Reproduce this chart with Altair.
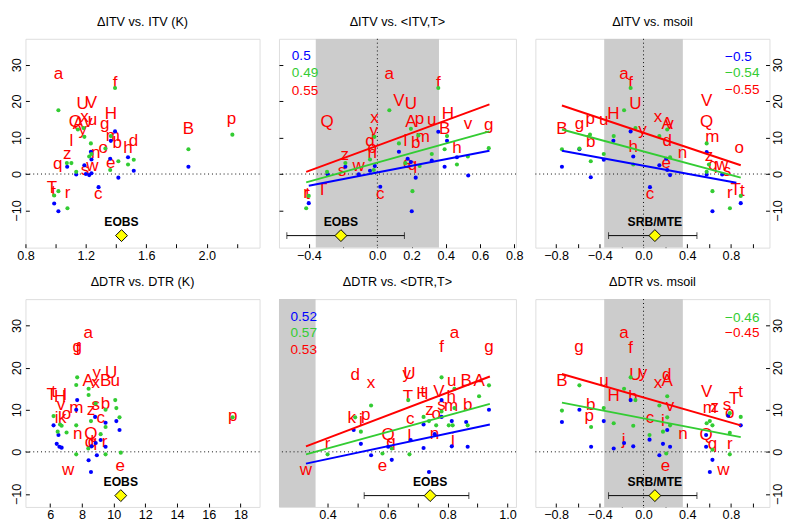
import altair as alt
import pandas as pd

FONT = "Liberation Sans"
RED = "#FF0000"
BLUE = "#0000FF"
GREEN = "#33CC33"
BAND = "#CCCCCC"

# ---------------- Panel 1: dITV vs ITV (K) ----------------
p1_lab = ["a","f","U","V","Q","A","x","y","v","u","H","g","m","b","d","h","o","n","l","z","q","e","w","s","T","t","r","c","B","p"]
p1_lx = [1.018,1.393,1.179,1.237,1.13,1.151,1.19,1.179,1.215,1.243,1.365,1.325,1.378,1.408,1.515,1.479,1.314,1.265,1.104,1.076,1.014,1.365,1.243,1.194,0.976,0.986,1.078,1.282,1.879,2.164]
p1_ly = [27.5,24.8,19.3,19.5,14.2,13.8,15.7,12.0,14.1,14.8,16.4,13.8,10.4,8.6,9.1,7.1,7.1,5.8,9.1,5.5,2.8,3.1,2.1,1.1,-4.0,-4.9,-5.2,-5.4,12.2,15.0]
p1_bx = [1.076,1.136,1.19,1.222,1.237,1.233,1.237,1.365,1.393,1.361,1.415,1.479,1.517,1.879,1.284,0.99,1.018,1.2]
p1_by = [2.0,-0.1,2.4,-0.3,0.2,6.1,4.0,9.1,11.7,4.2,-1.0,4.6,0.9,2.0,-3.6,-8.1,-10.2,0.0]
p1_gx = [1.018,1.393,1.147,1.185,1.19,1.233,1.222,1.237,1.329,1.361,1.415,1.479,1.517,1.365,1.074,1.104,1.136,0.99,1.018,1.078,1.879,2.17]
p1_gy = [17.5,23.6,12.2,12.6,10.2,8.4,4.8,5.5,7.0,1.1,3.5,2.6,3.9,10.4,3.0,3.0,0.6,-5.9,-4.7,-9.4,6.8,10.8]

# ---------------- Panel 2: dITV vs <ITV,T> ----------------
p2_lab = ["Q","a","f","V","U","x","y","A","p","u","H","v","g","B","m","l","b","d","o","n","h","z","e","q","w","s","T","r","t","c"]
p2_lx = [-0.294,0.070,0.356,0.126,0.196,-0.017,-0.021,0.196,0.246,0.318,0.412,0.529,0.651,0.393,0.265,0.164,0.224,-0.043,-0.030,-0.030,0.465,-0.190,0.177,0.205,-0.109,-0.206,-0.322,-0.416,-0.407,0.017]
p2_ly = [14.1,27.5,24.8,19.9,19.3,15.3,11.9,14.1,15.0,14.8,16.4,13.8,13.5,12.2,10.2,9.1,8.6,9.1,7.0,5.8,7.1,5.2,3.1,2.4,2.1,0.9,-4.3,-5.2,-5.4,-5.4]
p2_bx = [-0.401,-0.290,-0.187,-0.109,-0.043,-0.015,0.017,0.126,0.177,0.224,0.201,0.318,0.356,0.407,0.393,0.465,0.531,0.196]
p2_by = [-8.0,-0.1,2.0,-0.1,0.9,2.2,-3.5,6.1,4.2,-1.0,-10.2,3.7,11.6,9.1,2.0,4.6,-0.4,3.3]
p2_gx = [-0.416,-0.401,-0.294,-0.187,-0.043,-0.021,-0.017,0.070,0.126,0.164,0.196,0.205,0.247,0.318,0.356,0.407,0.393,0.465,0.529,0.651,0.240]
p2_gy = [-9.4,-6.0,0.6,3.0,4.0,1.1,10.2,17.5,8.4,3.0,12.4,-4.7,2.2,5.5,23.6,10.4,6.8,2.6,4.8,7.1,10.6]

# ---------------- Panel 3: dITV vs msoil ----------------
p3_lab = ["a","f","U","H","u","p","g","B","b","y","x","A","v","d","h","e","c","n","V","Q","m","o","z","q","w","s","r","T","t"]
p3_lx = [-0.178,-0.118,-0.074,-0.276,-0.364,-0.489,-0.587,-0.747,-0.483,-0.009,0.133,0.217,0.237,0.217,-0.094,0.208,0.059,0.356,0.578,0.578,0.631,0.875,0.599,0.636,0.72,0.764,0.791,0.844,0.904]
p3_ly = [27.5,24.8,19.3,16.4,14.7,15.0,13.7,12.2,8.8,12.0,15.7,13.8,13.6,9.1,7.5,3.1,-5.4,5.8,19.9,14.2,10.2,7.0,4.9,2.4,2.4,0.9,-5.2,-4.5,-4.7]
p3_bx = [-0.747,-0.587,-0.483,-0.364,-0.276,-0.118,-0.094,0.059,0.145,0.208,0.217,0.243,0.578,0.578,0.631,0.72,0.89]
p3_by = [2.0,6.8,-0.9,3.9,9.1,11.7,4.8,-3.6,2.4,4.2,1.1,-0.3,-0.1,6.0,-10.2,-0.1,-8.0]
p3_gx = [-0.747,-0.587,-0.483,-0.49,-0.364,-0.273,-0.178,-0.118,-0.094,-0.074,0.145,0.217,0.243,0.578,0.599,0.578,0.631,0.791,0.89]
p3_gy = [6.8,7.0,3.5,10.8,5.5,10.4,17.5,23.6,2.6,12.6,10.4,12.2,4.6,8.4,2.6,0.6,-4.7,-9.4,-6.0]

# ---------------- Panel 4: dDTR vs DTR (K) ----------------
p4_lab = ["a","g","f","y","U","A","x","B","u","T","t","H","l","v","m","s","b","z","c","o","i","k","n","Q","d","q","r","w","e","p"]
p4_lx = [8.40,7.70,7.74,8.94,9.84,8.40,8.87,9.49,10.10,6.10,6.21,6.62,6.92,6.68,7.64,8.87,9.49,8.57,9.18,7.03,6.41,6.76,7.74,8.57,8.47,8.67,9.43,7.13,10.41,17.5]
p4_ly = [28.1,25.0,24.5,18.7,18.7,16.9,16.4,16.9,16.9,13.5,14.1,13.1,13.5,11.0,10.5,11.0,11.3,10.0,8.1,9.0,7.9,7.9,4.2,4.2,2.3,2.3,2.3,-4.4,-3.3,8.6]
p4_bx = [6.21,6.52,6.41,6.58,6.72,7.70,7.64,8.42,8.57,8.83,8.94,9.18,9.49,9.49,10.17,10.37,8.61,8.87]
p4_by = [6.3,4.0,1.9,1.2,1.0,12.3,10.0,-2.0,-4.8,8.3,-0.8,2.8,1.2,6.9,7.3,5.2,1.3,2.1]
p4_gx = [6.21,6.47,6.62,6.72,7.03,7.70,7.64,7.64,7.64,8.42,8.42,8.57,8.40,8.87,9.18,9.49,9.49,9.49,10.10,10.17,10.37,10.45,17.5]
p4_gy = [8.5,4.8,6.5,6.2,4.6,17.7,15.9,6.3,-0.6,15.0,13.5,7.3,0.8,11.5,4.2,10.0,5.9,-0.6,12.3,10.4,8.2,-0.2,8.2]

# ---------------- Panel 5: dDTR vs <DTR,T> ----------------
p5_lab = ["a","f","g","d","x","y","U","u","B","A","T","H","t","V","h","s","m","b","z","o","k","p","i","c","Q","l","n","j","q","r","e","w"]
p5_lx = [0.823,0.780,0.938,0.492,0.545,0.664,0.673,0.814,0.862,0.905,0.668,0.716,0.718,0.771,0.812,0.780,0.812,0.867,0.740,0.762,0.481,0.527,0.511,0.676,0.602,0.673,0.756,0.818,0.611,0.400,0.583,0.328]
p5_ly = [28.1,24.8,25.0,18.2,16.4,18.5,18.5,16.9,16.9,16.9,13.1,13.6,14.2,14.1,13.1,11.0,10.8,11.2,10.0,9.0,8.1,8.8,7.5,7.8,4.0,3.8,4.2,3.1,2.3,1.9,-3.3,-4.4]
p5_bx = [0.487,0.511,0.545,0.614,0.602,0.677,0.720,0.720,0.738,0.780,0.780,0.814,0.814,0.862,0.867,0.938,0.757]
p5_by = [5.2,1.9,-0.8,-1.9,1.2,2.8,0.9,6.5,-4.8,12.3,8.3,7.3,1.3,7.1,1.2,10.0,4.2]
p5_gx = [0.400,0.492,0.511,0.545,0.583,0.614,0.669,0.673,0.720,0.738,0.780,0.823,0.780,0.804,0.817,0.867,0.823,0.905,0.938,0.762]
p5_gy = [-0.6,8.2,4.8,11.0,-0.4,0.8,12.3,-0.6,8.3,7.3,17.7,15.0,9.6,6.3,6.3,6.3,10.4,13.2,15.8,6.3]

# ---------------- Panel 6: dDTR vs msoil ----------------
p6_lab = ["a","g","f","B","u","U","y","x","d","A","H","h","b","p","v","i","c","j","n","e","V","m","z","s","T","t","o","Q","q","r","w"]
p6_lx = [-0.178,-0.592,-0.118,-0.747,-0.361,-0.074,-0.005,0.133,0.213,0.216,-0.273,-0.097,-0.483,-0.498,0.243,0.178,0.059,-0.183,0.362,0.202,0.578,0.607,0.652,0.764,0.830,0.890,0.790,0.573,0.631,0.790,0.730]
p6_ly = [28.1,25.0,24.6,16.9,16.7,18.2,18.7,16.4,18.2,16.9,13.3,13.1,11.2,8.5,10.8,7.3,7.9,2.8,4.2,-3.3,14.1,10.4,10.6,11.0,12.5,14.1,9.2,4.0,1.9,1.9,-4.4]
p6_bx = [-0.747,-0.587,-0.480,-0.364,-0.273,-0.178,-0.118,-0.094,0.055,0.145,0.178,0.217,0.243,0.573,0.573,0.631,0.607,0.776,0.890]
p6_by = [7.1,10.0,1.2,7.3,0.8,2.1,12.3,1.3,2.9,-0.8,1.9,5.2,1.2,4.0,1.2,-1.9,-4.8,8.6,6.3]
p6_gx = [-0.747,-0.587,-0.480,-0.364,-0.273,-0.178,-0.118,-0.094,-0.074,0.055,0.145,0.178,0.217,0.217,0.208,0.243,0.578,0.607,0.631,0.631,0.790,0.790,0.790,0.890]
p6_gy = [9.8,15.8,5.9,10.4,6.8,15.0,17.7,6.2,12.3,4.0,11.0,4.8,13.2,8.2,-0.4,6.3,6.8,7.3,0.5,6.3,9.2,4.5,-0.6,8.3]

# regression lines: (color, x0, y0, x1, y1)
p1_lines = []
p2_lines = [(RED, -0.416, 0.6, 0.655, 19.1), (GREEN, -0.416, -2.3, 0.655, 11.7), (BLUE, -0.401, -3.2, 0.655, 6.4)]
p3_lines = [(RED, -0.747, 18.8, 0.89, 2.4), (GREEN, -0.747, 12.2, 0.89, -1.0), (BLUE, -0.747, 6.4, 0.85, -2.4)]
p4_lines = []
p5_lines = [(RED, 0.328, 1.3, 0.941, 17.9), (GREEN, 0.328, -0.6, 0.941, 11.4), (BLUE, 0.328, -2.8, 0.941, 6.5)]
p6_lines = [(RED, -0.747, 18.5, 0.89, 6.3), (GREEN, -0.747, 11.7, 0.89, 3.5)]

# correlation annotations: (text, color, x, y)
p2_corr = [("0.5", BLUE, -0.50, 32.4), ("0.49", GREEN, -0.50, 27.6), ("0.55", RED, -0.50, 22.8)]
p3_corr = [("\u22120.5", BLUE, 0.747, 32.2), ("\u22120.54", GREEN, 0.747, 27.6), ("\u22120.55", RED, 0.747, 23.0)]
p5_corr = [("0.52", BLUE, 0.2765, 32.1), ("0.57", GREEN, 0.2765, 28.2), ("0.53", RED, 0.2765, 24.1)]
p6_corr = [("\u22120.46", GREEN, 0.747, 31.9), ("\u22120.45", RED, 0.747, 28.1)]

# observation diamond: (label, x, y, lo, hi, label_y)
p1_obs = ("EOBS", 1.436, -16.9, None, None, -13.3)
p2_obs = ("EOBS", -0.213, -16.9, -0.529, 0.158, -13.3)
p3_obs = ("SRB/MTE", 0.104, -16.9, -0.32, 0.489, -13.3)
p4_obs = ("EOBS", 10.45, -10.4, None, None, -7.3)
p5_obs = ("EOBS", 0.742, -10.4, 0.522, 0.871, -7.3)
p6_obs = ("SRB/MTE", 0.104, -10.4, -0.32, 0.489, -7.3)

Y_TICKS = [-10, 0, 10, 20, 30]


def panel(title, width, height, xdom, ydom, xticks, xlabeled, xfmt, yorient, ylabels,
          lab, lx, ly, bx, by, gx, gy, lines, corr, obs, band=None, vzero=False):
    lab_expr = "indexof(%s, round(datum.value*100)) >= 0 ? datum.label : ''" % (
        "[" + ",".join(str(int(round(v * 100))) for v in xlabeled) + "]")
    xaxis = alt.Axis(values=xticks, format=xfmt, labelExpr=lab_expr, orient="bottom",
                     offset=-4, tickSize=4, domain=False, grid=False, labelPadding=2,
                     labelFont=FONT, labelFontSize=13, labelColor="black", tickColor="black",
                     labelOverlap=False, labelFlush=False, labelBound=False, title=None)
    yaxis = alt.Axis(values=Y_TICKS, orient=yorient, labels=ylabels, labelAngle=270,
                     labelAlign="center", labelBaseline="bottom" if yorient == "left" else "top",
                     offset=-4, tickSize=4, domain=False, grid=False, labelPadding=2.5,
                     labelFont=FONT, labelFontSize=13, labelColor="black", tickColor="black",
                     labelOverlap=False, labelFlush=False, labelBound=False, title=None)
    xs = alt.Scale(domain=xdom, nice=False, zero=False)
    ys = alt.Scale(domain=ydom, nice=False, zero=False)

    def X(f):
        return alt.X(f, type="quantitative", scale=xs, axis=xaxis)

    def Y(f):
        return alt.Y(f, type="quantitative", scale=ys, axis=yaxis)

    layers = []
    if band is not None:
        layers.append(alt.Chart(pd.DataFrame({"x0": [band[0]], "x1": [band[1]]})).mark_rect(
            color=BAND, clip=True).encode(x=X("x0"), x2="x1", y=alt.value(0), y2=alt.value(height)))
    layers.append(alt.Chart(pd.DataFrame({"y": [0]})).mark_rule(
        color="black", strokeDash=[1, 3], strokeWidth=1).encode(y=Y("y")))
    if vzero:
        layers.append(alt.Chart(pd.DataFrame({"x": [0]})).mark_rule(
            color="black", strokeDash=[1, 3], strokeWidth=1).encode(x=X("x")))
    layers.append(alt.Chart(pd.DataFrame({"x": lx, "y": ly, "t": lab})).mark_text(
        color=RED, font=FONT, fontSize=17.5, baseline="middle", align="center").encode(
        x=X("x"), y=Y("y"), text="t:N"))
    layers.append(alt.Chart(pd.DataFrame({"x": bx, "y": by})).mark_circle(
        color=BLUE, size=18, opacity=1).encode(x=X("x"), y=Y("y")))
    layers.append(alt.Chart(pd.DataFrame({"x": gx, "y": gy})).mark_circle(
        color=GREEN, size=18, opacity=1).encode(x=X("x"), y=Y("y")))
    if lines:
        ld = pd.DataFrame(lines, columns=["c", "x0", "y0", "x1", "y1"])
        layers.append(alt.Chart(ld).mark_rule(strokeWidth=2).encode(
            x=X("x0"), x2="x1", y=Y("y0"), y2="y1", color=alt.Color("c:N", scale=None)))
    name, ox, oy, lo, hi, ty = obs
    if lo is not None:
        layers.append(alt.Chart(pd.DataFrame({"lo": [lo], "hi": [hi], "y": [oy]})).mark_rule(
            color="black", strokeWidth=1).encode(x=X("lo"), x2="hi", y=Y("y")))
        layers.append(alt.Chart(pd.DataFrame({"x": [lo, hi], "y": [oy, oy]})).mark_tick(
            color="black", orient="vertical", size=7, thickness=1).encode(x=X("x"), y=Y("y")))
    layers.append(alt.Chart(pd.DataFrame({"x": [ox], "y": [oy]})).mark_point(
        shape="diamond", filled=True, fill="#FFFF00", stroke="black", strokeWidth=1,
        size=150, opacity=1).encode(x=X("x"), y=Y("y")))
    layers.append(alt.Chart(pd.DataFrame({"x": [ox], "y": [ty], "t": [name]})).mark_text(
        font=FONT, fontSize=12.5, fontWeight="bold", color="black", baseline="middle").encode(
        x=X("x"), y=Y("y"), text="t:N"))
    if corr:
        cd = pd.DataFrame(corr, columns=["t", "c", "x", "y"])
        layers.append(alt.Chart(cd).mark_text(
            font=FONT, fontSize=14, align="left", baseline="middle").encode(
            x=X("x"), y=Y("y"), text="t:N", color=alt.Color("c:N", scale=None)))
    return alt.layer(*layers).properties(
        width=width, height=height,
        title=alt.TitleParams(title, font=FONT, fontSize=13, fontWeight="normal",
                              color="black", offset=10, anchor="middle"))


TOP_Y = [-20.2, 37.1]
BOT_Y = [-13.1, 36.3]
W1, W2, W3 = 241, 244, 241

c1 = panel("\u0394ITV vs. ITV (K)", W1, 215, [0.8, 2.35], TOP_Y,
           [0.8, 1.0, 1.2, 1.4, 1.6, 1.8, 2.0, 2.2], [0.8, 1.2, 1.6, 2.0], ".1f", "left", True,
           p1_lab, p1_lx, p1_ly, p1_bx, p1_by, p1_gx, p1_gy, p1_lines, None, p1_obs)
c2 = panel("\u0394ITV vs. <ITV,T>", W2, 215, [-0.575, 0.81], TOP_Y,
           [-0.4, -0.2, 0.0, 0.2, 0.4, 0.6, 0.8], [-0.4, 0.0, 0.2, 0.4, 0.6, 0.8], ".1f", "left", False,
           p2_lab, p2_lx, p2_ly, p2_bx, p2_by, p2_gx, p2_gy, p2_lines, p2_corr, p2_obs,
           band=(-0.36, 0.36), vzero=True)
c3 = panel("\u0394ITV vs. msoil", W3, 215, [-0.99, 1.153], TOP_Y,
           [-0.8, -0.6, -0.4, -0.2, 0.0, 0.2, 0.4, 0.6, 0.8, 1.0], [-0.8, -0.4, 0.0, 0.4, 0.8], ".1f", "right", True,
           p3_lab, p3_lx, p3_ly, p3_bx, p3_by, p3_gx, p3_gy, p3_lines, p3_corr, p3_obs,
           band=(-0.36, 0.36), vzero=True)
c4 = panel("\u0394DTR vs. DTR (K)", W1, 214, [4.44, 19.2], BOT_Y,
           [6, 8, 10, 12, 14, 16, 18], [6, 8, 10, 12, 14, 16, 18], "d", "left", True,
           p4_lab, p4_lx, p4_ly, p4_bx, p4_by, p4_gx, p4_gy, p4_lines, None, p4_obs)
c5 = panel("\u0394DTR vs. <DTR,T>", W2, 214, [0.238, 1.028], BOT_Y,
           [0.4, 0.5, 0.6, 0.7, 0.8, 0.9, 1.0], [0.4, 0.6, 0.8, 1.0], ".1f", "left", False,
           p5_lab, p5_lx, p5_ly, p5_bx, p5_by, p5_gx, p5_gy, p5_lines, p5_corr, p5_obs,
           band=(0.238, 0.36))
c6 = panel("\u0394DTR vs. msoil", W3, 214, [-0.99, 1.153], BOT_Y,
           [-0.8, -0.6, -0.4, -0.2, 0.0, 0.2, 0.4, 0.6, 0.8, 1.0], [-0.8, -0.4, 0.0, 0.4, 0.8], ".1f", "right", True,
           p6_lab, p6_lx, p6_ly, p6_bx, p6_by, p6_gx, p6_gy, p6_lines, p6_corr, p6_obs,
           band=(-0.36, 0.36), vzero=True)

chart = alt.concat(c1, c2, c3, c4, c5, c6, columns=3, spacing={"row": 53, "column": 20},
                   bounds="flush", align="each").properties(
    padding={"left": 1, "top": 0, "right": 0, "bottom": 0}
).configure_view(stroke="black", strokeWidth=1).configure(background="white")

chart.save("out.html", embed_options={"renderer": "svg", "actions": False})
